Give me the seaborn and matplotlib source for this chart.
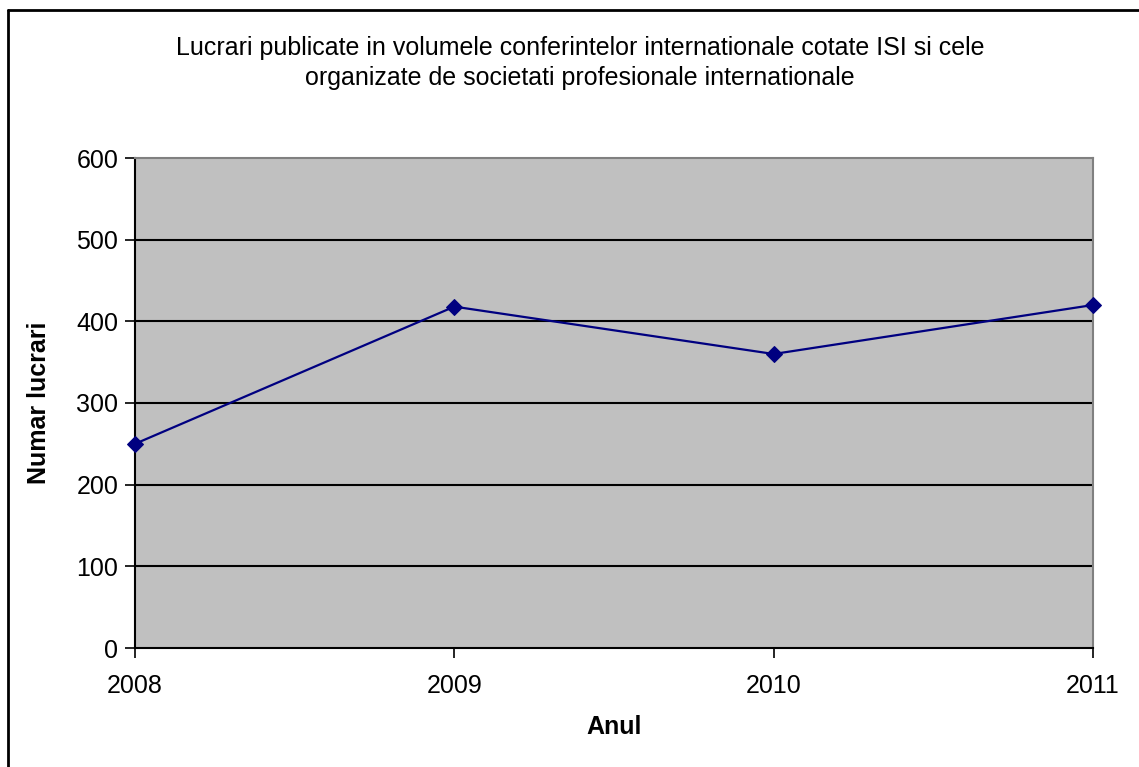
import pandas as pd
import numpy as np
import seaborn as sns
import matplotlib.pyplot as plt
from matplotlib.lines import Line2D

# data
years = [2008, 2009, 2010, 2011]
lucrari = [250, 418, 360, 420]
yticks = [0, 100, 200, 300, 400, 500, 600]

df = pd.DataFrame({'an': years, 'lucrari': lucrari})

sns.set_style('white')
plt.rcParams['font.family'] = ['Liberation Sans', 'DejaVu Sans']
plt.rcParams['text.color'] = 'black'
plt.rcParams['axes.labelcolor'] = 'black'
plt.rcParams['xtick.color'] = 'black'
plt.rcParams['ytick.color'] = 'black'

fig = plt.figure(figsize=(11.39, 7.67), dpi=100)
ax = fig.add_axes([135 / 1139, 1 - 648 / 767, (1093 - 135) / 1139, (648 - 158) / 767])
ax.set_facecolor('#c0c0c0')

# horizontal grid, black
for v in yticks[1:-1]:
	ax.axhline(v, color='black', lw=1.5, zorder=1)

sns.lineplot(data=df, x='an', y='lucrari', ax=ax, color='#000080', lw=1.6,
			 marker='D', markersize=8, markeredgecolor='#000080', zorder=3, clip_on=False)

ax.set_xlim(2008, 2011)
ax.set_ylim(0, 600)
ax.set_xticks(years)
ax.set_xticklabels([str(y) for y in years])
ax.set_yticks(yticks)
ax.tick_params(axis='both', direction='out', length=7, width=1.2, color='black',
			   labelsize=18, pad=5, left=True, bottom=True)
ax.tick_params(axis='x', pad=12)

for s in ['left', 'bottom']:
	ax.spines[s].set_color('black')
	ax.spines[s].set_linewidth(1.5)
for s in ['top', 'right']:
	ax.spines[s].set_color('#808080')
	ax.spines[s].set_linewidth(1.5)

ax.set_xlabel('Anul', fontsize=18, fontweight='bold', labelpad=12)
ax.set_ylabel('Numar lucrari', fontsize=18, fontweight='bold', labelpad=18)

fig.text(580 / 1139, 1 - 63 / 767,
		 'Lucrari publicate in volumele conferintelor internationale cotate ISI si cele\n'
		 'organizate de societati profesionale internationale',
		 ha='center', va='center', fontsize=18, linespacing=1.35)

# outer chart border (runs off the right and bottom of the image)
fig.add_artist(Line2D([8 / 1139, 8 / 1139], [0, 1 - 10 / 767], color='black', lw=2, transform=fig.transFigure))
fig.add_artist(Line2D([8 / 1139, 1], [1 - 10 / 767, 1 - 10 / 767], color='black', lw=2, transform=fig.transFigure))

fig.savefig('out.png', dpi=100)
